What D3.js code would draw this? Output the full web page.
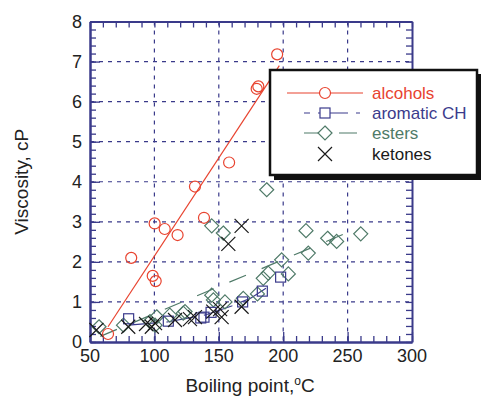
<!DOCTYPE html>
<html>
<head>
<meta charset="utf-8">
<script src="https://cdn.jsdelivr.net/npm/d3@7"></script>
<style>
  body { margin: 0; background: #fff; }
  svg { font-family: "Liberation Sans", Arial, sans-serif; }
</style>
</head>
<body>
<svg id="vis1" width="484" height="399"></svg>
<script>
// alcohols
let alcBp = [64, 82, 98.7, 101, 100.2, 108, 118, 131.5, 138.5, 158, 179.4, 180.7, 195.3];
let alcVis = [0.2, 2.1, 1.65, 1.52, 2.96, 2.82, 2.67, 3.88, 3.1, 4.48, 6.32, 6.38, 7.18];
let alcFitBp = [64, 197];
let alcFitVis = [0.38, 6.9];

// aromatic CH
let aroBp = [80, 110.8, 136, 138.5, 144, 168.5, 183.8, 198];
let aroVis = [0.58, 0.52, 0.6, 0.62, 0.74, 1.0, 1.27, 1.62];
let aroFitBp = [80, 110, 140, 160, 175, 191];
let aroFitVis = [0.42, 0.5, 0.68, 0.9, 1.1, 1.43];

// esters
let estBp = [57, 76, 96.6, 100.5, 101.8, 112, 122.4, 123.8, 144.5, 145.8, 154.8, 144.5, 153.5, 187.2,
  169, 180, 184.5, 188.4, 198.8, 204, 217.7, 219.5, 234.5, 241.5, 260.2];
let estVis = [0.38, 0.42, 0.51, 0.42, 0.63, 0.67, 0.72, 0.76, 1.17, 1.05, 1.0, 2.9, 2.72, 3.8,
  1.09, 1.2, 1.59, 1.72, 2.05, 1.7, 2.78, 2.22, 2.59, 2.51, 2.7];
let estFitBp = [58, 252];
let estFitVis = [0.14, 2.76];

// ketones
let ketBp = [55, 79.7, 93.5, 98, 100.5, 116, 127.6, 131.5, 145.7, 151, 152.2, 167.7, 157.4, 167.7];
let ketVis = [0.3, 0.38, 0.45, 0.38, 0.47, 0.55, 0.57, 0.62, 0.76, 0.82, 0.62, 0.88, 2.45, 2.9];

let xTicks = [50, 100, 150, 200, 250, 300];
let yTicks = [0, 1, 2, 3, 4, 5, 6, 7, 8];

let red = "#e8432f", blue = "#3b3b8c", green = "#4f7a68", black = "#1a1a1a";
let axisColor = "#3a3a8a";

let svg = d3.select("#vis1");

let x = d3.scaleLinear().domain([50, 300]).range([90, 412]);
let y = d3.scaleLinear().domain([0, 8]).range([342, 21.5]);

let zip = function(a, b) { return a.map(function(d, i) { return [d, b[i]]; }); };

// gridlines at major ticks
let grid = svg.append("g").attr("class", "grid");
grid.selectAll(".vgrid")
  .data(xTicks.slice(1, -1))
  .enter().append("line")
  .attr("x1", function(d) { return x(d); })
  .attr("x2", function(d) { return x(d); })
  .attr("y1", y(8)).attr("y2", y(0))
  .attr("stroke", axisColor).attr("stroke-width", 1.2)
  .attr("stroke-dasharray", "4,5");
grid.selectAll(".hgrid")
  .data(yTicks.slice(1, -1))
  .enter().append("line")
  .attr("y1", function(d) { return y(d); })
  .attr("y2", function(d) { return y(d); })
  .attr("x1", x(50)).attr("x2", x(300))
  .attr("stroke", axisColor).attr("stroke-width", 1.2)
  .attr("stroke-dasharray", "4,5");

// axes with inward ticks on all four sides
let minorX = d3.range(50, 301, 10);
let minorY = d3.range(0, 8.01, 0.2);

function frameAxis(axisFn, transform, values, size) {
  let g = svg.append("g")
    .attr("transform", transform)
    .call(axisFn.tickValues(values).tickSize(size).tickFormat("").tickSizeOuter(0));
  g.select(".domain").attr("stroke", axisColor).attr("stroke-width", 2);
  g.selectAll(".tick line").attr("stroke", axisColor).attr("stroke-width", 1.3);
  return g;
}
frameAxis(d3.axisBottom(x), "translate(0," + y(0) + ")", minorX, -6);
frameAxis(d3.axisTop(x), "translate(0," + y(8) + ")", minorX, -6);
frameAxis(d3.axisLeft(y), "translate(" + x(50) + ",0)", minorY, -6);
frameAxis(d3.axisRight(y), "translate(" + x(300) + ",0)", minorY, -6);
frameAxis(d3.axisBottom(x), "translate(0," + y(0) + ")", xTicks, -10);
frameAxis(d3.axisLeft(y), "translate(" + x(50) + ",0)", yTicks, -10);

// tick labels
svg.append("g").selectAll("text")
  .data(xTicks)
  .enter().append("text")
  .attr("x", function(d) { return x(d); })
  .attr("y", 362)
  .attr("text-anchor", "middle")
  .style("font-size", "18px")
  .attr("fill", "#222")
  .text(function(d) { return d; });
svg.append("g").selectAll("text")
  .data(yTicks)
  .enter().append("text")
  .attr("x", 82)
  .attr("y", function(d) { return y(d) + 6; })
  .attr("text-anchor", "end")
  .style("font-size", "18px")
  .attr("fill", "#222")
  .text(function(d) { return d; });

// axis titles
let xTitle = svg.append("text")
  .attr("x", 250).attr("y", 392)
  .attr("text-anchor", "middle")
  .style("font-size", "19px")
  .attr("fill", "#222")
  .text("Boiling point,");
xTitle.append("tspan").attr("dy", -7).style("font-size", "12px").text("o");
xTitle.append("tspan").attr("dy", 7).text("C");

svg.append("text")
  .attr("transform", "translate(28," + y(4) + ") rotate(-90)")
  .attr("text-anchor", "middle")
  .style("font-size", "19px")
  .attr("fill", "#222")
  .text("Viscosity, cP");

// fit lines
let line = d3.line()
  .x(function(d) { return x(d[0]); })
  .y(function(d) { return y(d[1]); });

let plot = svg.append("g").attr("class", "plot");
plot.append("path")
  .attr("d", line(zip(alcFitBp, alcFitVis)))
  .attr("stroke", red).attr("stroke-width", 1.2).attr("fill", "none");
plot.append("path")
  .attr("d", line(d3.zip(aroFitBp, aroFitVis)))
  .attr("stroke", blue).attr("stroke-width", 1.2).attr("fill", "none")
  .attr("stroke-dasharray", "30,8");
plot.append("path")
  .attr("d", line(zip(estFitBp, estFitVis)))
  .attr("stroke", green).attr("stroke-width", 1.2).attr("fill", "none")
  .attr("stroke-dasharray", "18,17");

// marker shapes
let markers = {
  circle: function(s) { s.append("circle").attr("r", 5.5); },
  square: function(s) { s.append("rect").attr("x", -5).attr("y", -5).attr("width", 10).attr("height", 10); },
  diamond: function(s) { s.append("path").attr("d", "M0,-7L7,0L0,7L-7,0Z"); },
  cross: function(s) { s.append("path").attr("d", "M-7,-7L7,7M-7,7L7,-7"); }
};

function drawPoints(bp, vis, shape, color) {
  let g = plot.append("g")
    .attr("fill", "none").attr("stroke", color).attr("stroke-width", 1.2);
  g.selectAll("g")
    .data(zip(bp, vis))
    .enter().append("g")
    .attr("transform", function(d) { return "translate(" + x(d[0]) + "," + y(d[1]) + ")"; })
    .each(function() { markers[shape](d3.select(this)); });
}
drawPoints(estBp, estVis, "diamond", green);
drawPoints(aroBp, aroVis, "square", blue);
drawPoints(ketBp, ketVis, "cross", black);
drawPoints(alcBp, alcVis, "circle", red);

// legend box with shadow
let legend = svg.append("g").attr("class", "legend");
legend.append("rect")
  .attr("x", 274).attr("y", 74).attr("width", 207).attr("height", 106)
  .attr("fill", "#111");
legend.append("rect")
  .attr("x", 270).attr("y", 70).attr("width", 207).attr("height", 105)
  .attr("fill", "#fff").attr("stroke", "#111").attr("stroke-width", 2.5);

let legendItems = [
  {name: "alcohols", color: red, shape: "circle", x1: 287, dash: null, offset: 0},
  {name: "aromatic CH", color: blue, shape: "square", x1: 304, dash: "30,8", offset: 24},
  {name: "esters", color: green, shape: "diamond", x1: 304, dash: "18,17", offset: 0},
  {name: "ketones", color: black, shape: "cross", x1: null, dash: null, offset: 0}
];
let rowY = [93, 113, 133, 154];

let rows = legend.selectAll(".row")
  .data(legendItems)
  .enter().append("g")
  .attr("transform", function(d, i) { return "translate(0," + rowY[i] + ")"; });

rows.filter(function(d) { return d.x1 !== null; })
  .append("line")
  .attr("x1", function(d) { return d.x1; })
  .attr("x2", function(d) { return d.dash ? 360 : 363; })
  .attr("stroke", function(d) { return d.color; })
  .attr("stroke-width", 1.2)
  .attr("stroke-dasharray", function(d) { return d.dash; })
  .attr("stroke-dashoffset", function(d) { return d.offset; });

rows.append("g")
  .attr("transform", "translate(325,0)")
  .attr("fill", "#fff")
  .attr("stroke", function(d) { return d.color; })
  .attr("stroke-width", 1.2)
  .each(function(d) {
    let g = d3.select(this);
    if (d.shape === "cross") g.attr("fill", "none");
    markers[d.shape](g);
  });

rows.append("text")
  .attr("x", 372).attr("y", 6)
  .style("font-size", "17px")
  .attr("fill", function(d) { return d.color; })
  .text(function(d) { return d.name; });
</script>
</body>
</html>
